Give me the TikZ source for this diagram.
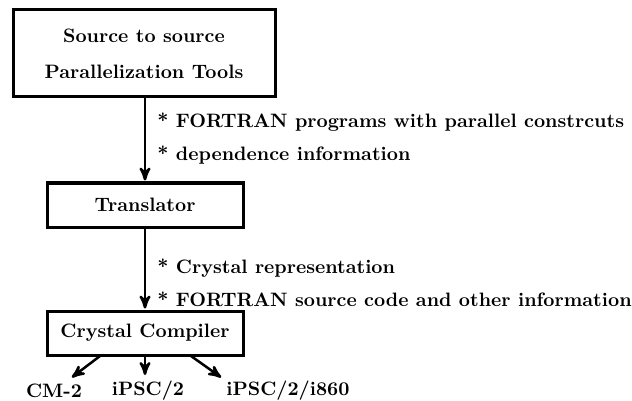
\documentclass[tikz,border=0pt]{standalone}
\usepackage{tikz}
\usetikzlibrary{arrows,positioning}
\tikzstyle{block}=[draw=black,line width=1.5pt,rectangle,inner sep=0pt,font=\fontsize{9.7}{11}\selectfont\bfseries]
\tikzstyle{post}=[->,>=stealth',line width=1.25pt,shorten >=0.5pt]
\tikzstyle{note}=[anchor=west,inner sep=0pt,font=\fontsize{9.7}{11}\selectfont\bfseries]
\tikzstyle{target}=[inner sep=0pt,font=\fontsize{9.7}{11}\selectfont\bfseries]

\begin{document}
\begin{tikzpicture}[x=0.5pt,y=-0.5pt]
    \useasboundingbox (0,0) rectangle (632,401);

    \node[block,minimum width=131pt,minimum height=43.5pt,align=center] (src) at (144,53.5)
        {Source to source\\[7pt]Parallelization Tools};
    \node[block,minimum width=98pt,minimum height=22pt] (trans) at (145,205) {Translator};
    \node[block,minimum width=98pt,minimum height=22pt] (comp) at (145,333) {Crystal Compiler};

    % what flows between the stages
    \node[note] (f1) at (157,122) {* FORTRAN programs with parallel constrcuts};
    \node[note] (f2) at (157,155) {* dependence information};
    \node[note] (f3) at (157,268) {* Crystal representation};
    \node[note] (f4) at (157,299) {* FORTRAN source code and other information};

    \node[target] (cm) at (54,391) {CM-2};
    \node[target] (ip) at (148,391) {iPSC/2};
    \node[target] (ii) at (288,391) {iPSC/2/i860};

    \path[post] (trans.north |- src.south) edge (trans.north)
                (trans.south) edge (comp.north);

    \coordinate (cl) at (100,356);
    \coordinate (cr) at (191,356);
    \path[post] (cl) edge (71,378)
                (comp.south) edge (145,376)
                (cr) edge (222,378);
\end{tikzpicture}
\end{document}
